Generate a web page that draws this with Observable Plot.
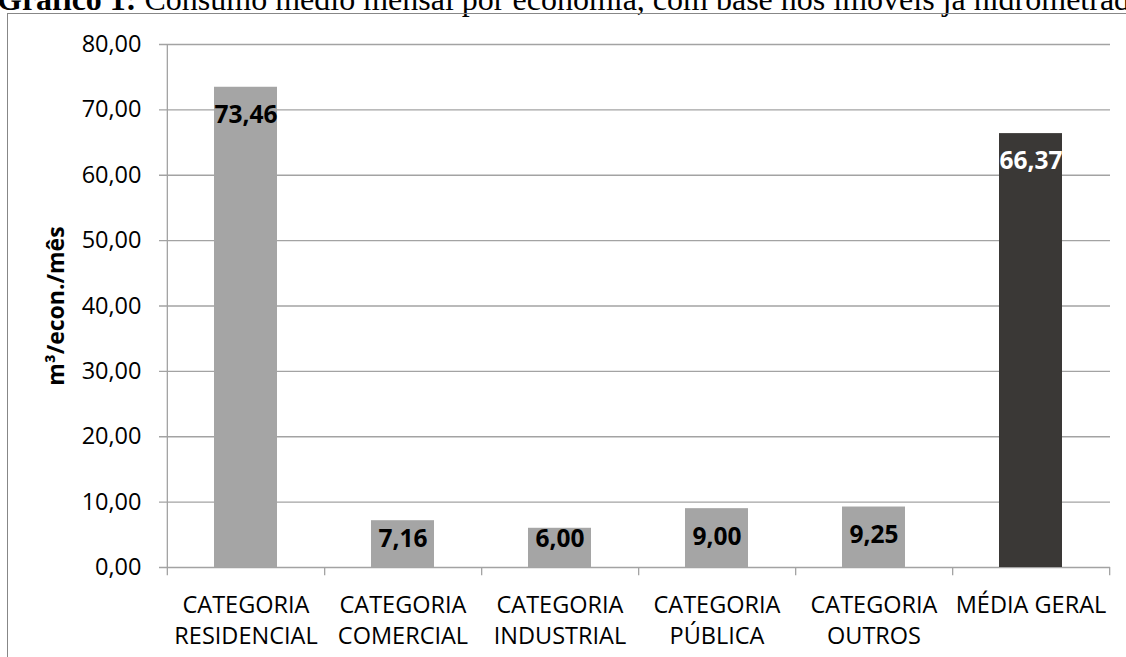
<!DOCTYPE html>
<html>
<head>
<meta charset="utf-8">
<script src="https://cdn.jsdelivr.net/npm/d3@7"></script>
<script src="https://cdn.jsdelivr.net/npm/@observablehq/plot@0.6"></script>
<style>
  html, body { margin: 0; padding: 0; background: #fff; overflow: hidden; width: 1126px; height: 657px; }
  #title { position: absolute; left: -3px; top: -17px; font-family: "Liberation Serif", "Times New Roman", serif; font-size: 32px; line-height: 1; white-space: nowrap; color: #000; }
  #frame { position: absolute; left: 7px; top: 13px; width: 1300px; height: 800px; border-left: 1px solid #878787; border-top: 1px solid #878787; }
  #chart { position: absolute; left: 0; top: 0; }
</style>
</head>
<body>
<div id="title"><b>Gráfico 1:</b> Consumo médio mensal por economia, com base nos imóveis já hidrometrados.</div>
<div id="frame"></div>
<div id="chart"></div>
<script>
const categories = ["CATEGORIA RESIDENCIAL", "CATEGORIA COMERCIAL", "CATEGORIA INDUSTRIAL", "CATEGORIA PÚBLICA", "CATEGORIA OUTROS", "MÉDIA GERAL"];
const tickLabels = ["CATEGORIA\nRESIDENCIAL", "CATEGORIA\nCOMERCIAL", "CATEGORIA\nINDUSTRIAL", "CATEGORIA\nPÚBLICA", "CATEGORIA\nOUTROS", "MÉDIA GERAL"];
const values = [73.46, 7.16, 6.00, 9.00, 9.25, 66.37];
const yTicks = [0, 10, 20, 30, 40, 50, 60, 70, 80];
const yLabel = "m³/econ./mês";

const data = categories.map((c, i) => ({category: c, value: values[i], total: c === "MÉDIA GERAL"}));
const fmt = v => v.toFixed(2).replace(".", ",");

const W = 1126, H = 657, mL = 166, mR = 16, mT = 44, mB = 90;
const step = (W - mL - mR) / categories.length;
const labelOf = new Map(categories.map((c, i) => [c, tickLabels[i]]));
const gridColor = "#a3a3a3";

const chart = Plot.plot({
  width: W,
  height: H,
  marginLeft: mL,
  marginRight: mR,
  marginTop: mT,
  marginBottom: mB,
  style: {fontFamily: "'Open Sans', sans-serif", fontSize: "23px", background: "transparent", color: "#000"},
  x: {domain: categories, paddingInner: 0.6, paddingOuter: 0.3, label: null},
  y: {domain: [0, 80], label: null},
  marks: [
    Plot.gridY(yTicks, {stroke: gridColor, strokeOpacity: 1, strokeWidth: 1.3, insetLeft: -7}),
    Plot.barY(data, {x: "category", y: "value", fill: d => d.total ? "#3a3836" : "#a5a5a5"}),
    Plot.ruleX(categories, {x: d => d, dx: step / 2, y1: -1.25, y2: 0, stroke: gridColor, strokeWidth: 1.3}),
    Plot.ruleX([categories[0]], {x: d => d, dx: -step / 2, y1: -1.25, y2: 80, stroke: gridColor, strokeWidth: 1.3}),
    Plot.axisY({ticks: yTicks, tickSize: 0, tickPadding: 25, tickFormat: fmt, fontSize: 23.5, label: null}),
    Plot.axisX({tickSize: 0, tickPadding: 23, tickFormat: d => labelOf.get(d), fontSize: 23.5, lineHeight: 1.34, label: null}),
    Plot.text(data, {x: "category", y: d => Math.max(d.value, 8.56), dy: 28, text: d => fmt(d.value),
      fill: d => d.total ? "#fff" : "#000", fontWeight: "bold", fontSize: 24.5}),
    Plot.text([yLabel], {frameAnchor: "left", dx: -110, rotate: -90, textAnchor: "middle", text: d => d, fontWeight: "bold", fontSize: 23, fill: "#000"})
  ]
});
document.getElementById("chart").appendChild(chart);
</script>
</body>
</html>
